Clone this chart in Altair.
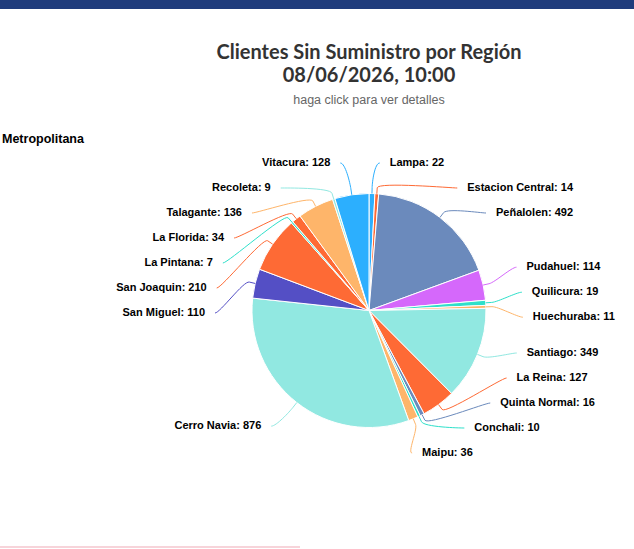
import math
import altair as alt
import pandas as pd

# ---------------- data ----------------
names = ["Lampa", "Estacion Central", "Peñalolen", "Pudahuel", "Quilicura", "Huechuraba",
         "Santiago", "La Reina", "Quinta Normal", "Conchali", "Maipu", "Cerro Navia",
         "San Miguel", "San Joaquin", "La Pintana", "La Florida", "Talagante", "Recoleta",
         "Vitacura"]
values = [22, 14, 492, 114, 19, 11, 349, 127, 16, 10, 36, 876, 110, 210, 7, 34, 136, 9, 128]
colors = ["#2caffe", "#fe6a35", "#6b8abc", "#d568fb", "#2ee0ca", "#feb56a",
          "#91e8e1", "#fe6a35", "#6b8abc", "#2ee0ca", "#feb56a", "#91e8e1",
          "#544fc5", "#fe6a35", "#2ee0ca", "#fe6a35", "#feb56a", "#91e8e1",
          "#2caffe"]

title_lines = ["Clientes Sin Suministro por Región", "08/06/2026, 10:00"]
subtitle_text = "haga click para ver detalles"
region_name = "Metropolitana"

# ---------------- layout constants ----------------
W, H = 634, 549
CXP, CYP = 369.0, 310.5      # pie centre on the page
R = 117                      # pie radius
DIST = 30                    # label distance
RL = R + DIST
BREAK = 6
CONN_PAD = 7
TEXT_PAD = 17
SLOT = 25
LAB_TOP, LAB_BOT = 150.5, 465.5

total = float(sum(values))
mids = []
cum = 0.0
for v in values:
    a0 = cum / total * 2 * math.pi
    cum += v
    a1 = cum / total * 2 * math.pi
    mids.append((a0 + a1) / 2)


def getx(yp, left):
    dy = max(-RL, min(RL, yp - CYP))
    off = math.sqrt(RL * RL - dy * dy)
    return CXP - off if left else CXP + off


def distribute(items):
    items = sorted(items)
    groups = [[it] for it in items]

    def place(g):
        ts = [t for t, _ in g]
        s = SLOT * len(g)
        p = (min(ts) + max(ts)) / 2 - s / 2
        return max(LAB_TOP, min(p, LAB_BOT - s))

    while True:
        pos = [place(g) for g in groups]
        merged = False
        for j in range(len(groups) - 1, 0, -1):
            if pos[j - 1] + SLOT * len(groups[j - 1]) > pos[j] + 1e-9:
                groups[j - 1] = groups[j - 1] + groups[j]
                del groups[j]
                merged = True
                break
        if not merged:
            break
    out = {}
    for g in groups:
        p = place(g)
        for k, (_, i) in enumerate(g):
            out[i] = p + SLOT * k + SLOT / 2
    return out


def ux(px):
    return px - CXP


def uy(py):
    return CYP - py


left_items, right_items = [], []
natural = {}
for i, a in enumerate(mids):
    ny = CYP - RL * math.cos(a)
    natural[i] = ny
    (left_items if a > math.pi else right_items).append((ny, i))

ypos = {}
ypos.update(distribute(left_items))
ypos.update(distribute(right_items))

lab_rows, con_rows = [], []
for i, a in enumerate(mids):
    left = a > math.pi
    sgn = -1 if left else 1
    yl = ypos[i]
    yx = natural[i] if (yl < CYP - RL + 2 or yl > CYP + RL - 2) else yl
    base = getx(yx, left)
    lab_rows.append({"name": names[i], "label": f"{names[i]}: {values[i]}",
                     "x": ux(base + sgn * TEXT_PAD), "y": uy(yl),
                     "side": "L" if left else "R"})
    p0 = (base + sgn * CONN_PAD, yl)
    p1 = (p0[0] - sgn * 5, yl)
    bx, by = CXP + (R + BREAK) * math.sin(a), CYP - (R + BREAK) * math.cos(a)
    tx, ty = CXP + R * math.sin(a), CYP - R * math.cos(a)
    p2 = (2 * bx - tx, 2 * by - ty)
    p3 = (bx, by)
    n = 16
    k = 0
    for s in range(n + 1):
        t = s / n
        px = ((1 - t) ** 3) * p0[0] + 3 * ((1 - t) ** 2) * t * p1[0] + 3 * (1 - t) * t * t * p2[0] + t ** 3 * p3[0]
        py = ((1 - t) ** 3) * p0[1] + 3 * ((1 - t) ** 2) * t * p1[1] + 3 * (1 - t) * t * t * p2[1] + t ** 3 * p3[1]
        con_rows.append({"name": names[i], "k": k, "x": ux(px), "y": uy(py)})
        k += 1
    con_rows.append({"name": names[i], "k": k, "x": ux(tx), "y": uy(ty)})

pie_df = pd.DataFrame({"name": names, "value": values, "idx": list(range(len(names)))})
lab_df = pd.DataFrame(lab_rows)
con_df = pd.DataFrame(con_rows)
one = pd.DataFrame({"a": [0]})

XS = alt.Scale(domain=[ux(0), ux(W)], nice=False, zero=False)
YS = alt.Scale(domain=[uy(H), uy(0)], nice=False, zero=False)
CS = alt.Scale(domain=names, range=colors)

header = alt.Chart(one).mark_rect(color="#1f3c7c").encode(
    x=alt.value(0), x2=alt.value(W), y=alt.value(0), y2=alt.value(9))

bottom_line = alt.Chart(one).mark_rect(color="#f7d4da").encode(
    x=alt.value(0), x2=alt.value(300), y=alt.value(546), y2=alt.value(548))

pie = alt.Chart(pie_df).mark_arc(radius=R, stroke="white", strokeWidth=1).encode(
    theta=alt.Theta("value:Q", stack=True),
    order=alt.Order("idx:Q", sort="ascending"),
    color=alt.Color("name:N", scale=CS, legend=None),
    x=alt.XDatum(0, type="quantitative", scale=XS, axis=None),
    y=alt.YDatum(0, type="quantitative", scale=YS, axis=None),
)

connectors = alt.Chart(con_df).mark_line(strokeWidth=1, interpolate="linear").encode(
    x=alt.X("x:Q", scale=XS, axis=None),
    y=alt.Y("y:Q", scale=YS, axis=None),
    detail="name:N",
    order=alt.Order("k:Q"),
    color=alt.Color("name:N", scale=CS, legend=None),
)

txt = dict(font="Liberation Sans", fontSize=11, fontWeight="bold", color="#000000", baseline="middle")
lab_r = alt.Chart(lab_df[lab_df.side == "R"]).mark_text(align="left", **txt).encode(
    x=alt.X("x:Q", scale=XS, axis=None), y=alt.Y("y:Q", scale=YS, axis=None), text="label:N")
lab_l = alt.Chart(lab_df[lab_df.side == "L"]).mark_text(align="right", **txt).encode(
    x=alt.X("x:Q", scale=XS, axis=None), y=alt.Y("y:Q", scale=YS, axis=None), text="label:N")

region = alt.Chart(pd.DataFrame({"t": [region_name]})).mark_text(
    align="left", baseline="middle", font="Liberation Sans", fontSize=12.5,
    fontWeight="bold", color="#000000").encode(
    x=alt.value(2), y=alt.value(139), text="t:N")

chart = alt.layer(header, bottom_line, pie, connectors, lab_r, lab_l, region).properties(
    width=W, height=H, padding=0, autosize="none",
    view=alt.ViewBackground(stroke="transparent", strokeWidth=0, fill="white"),
    title=alt.TitleParams(
        text=title_lines, subtitle=subtitle_text, anchor="middle", frame="group", dx=52,
        offset=-106, font="Lato", fontSize=20, fontWeight="bold", color="#333333",
        lineHeight=23, subtitleFont="Liberation Sans", subtitleFontSize=12.5,
        subtitleColor="#666666", subtitlePadding=8),
).configure_view(stroke="transparent", strokeWidth=0).configure(background="white")

chart.save("out.html", embed_options={"renderer": "svg", "actions": False})
